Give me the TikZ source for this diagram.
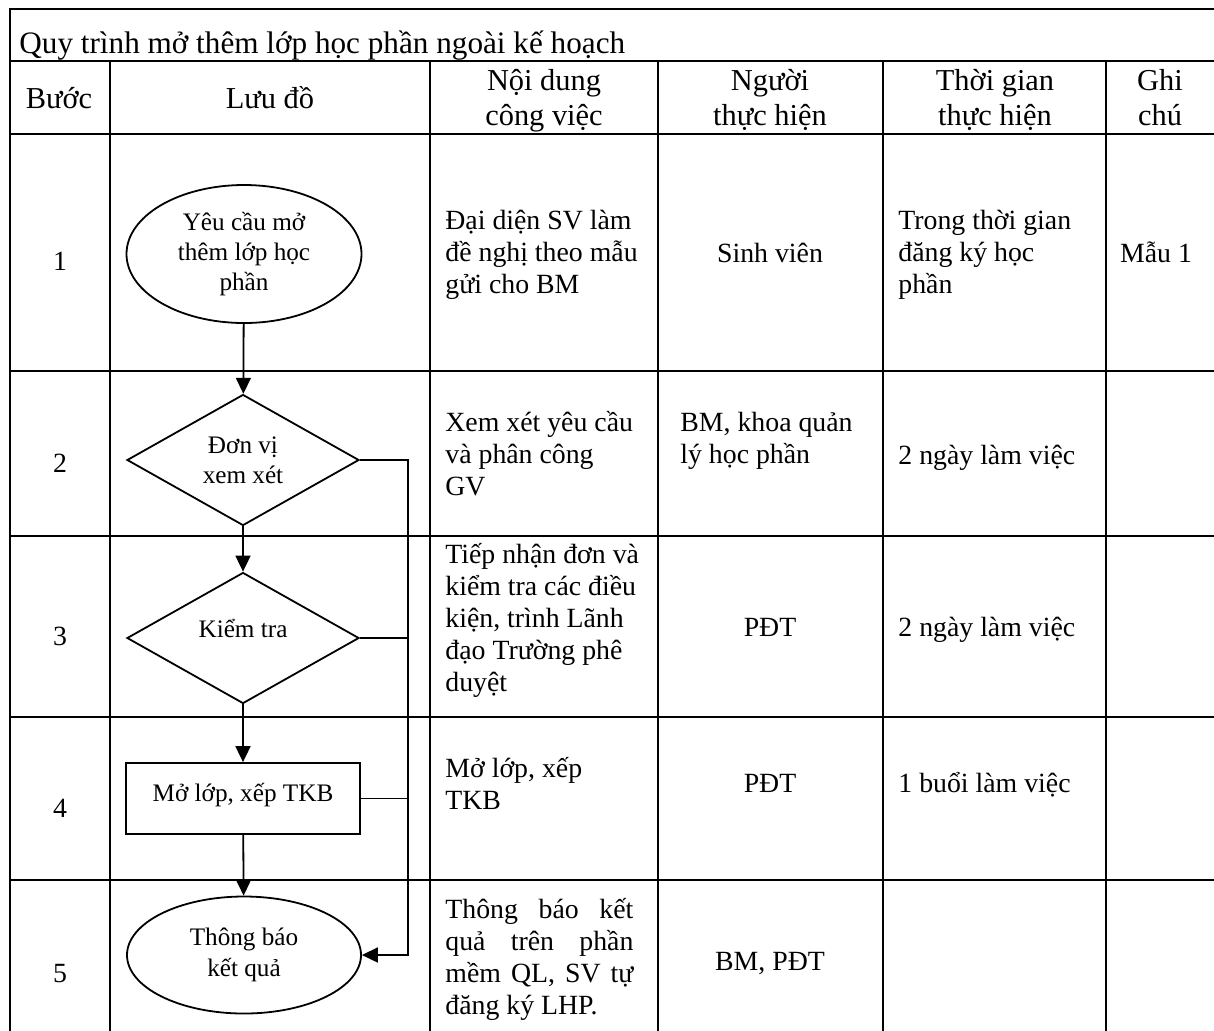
\documentclass[tikz,border=0pt]{standalone}
\usepackage{fontspec}
\setmainfont{Liberation Serif}
\usetikzlibrary{shapes.geometric,arrows.meta,positioning}

\newcommand{\cellfont}{\fontsize{13.9}{16}\selectfont}
\newcommand{\chartfont}{\fontsize{12.6}{15.2}\selectfont}
\newcommand{\headfont}{\fontsize{15.2}{17.5}\selectfont}
\newcommand{\jline}[1]{\makebox[94pt][s]{#1}}

\tikzset{
  tabline/.style={line width=0.6pt},
  flow/.style={line width=0.9pt},
  arr/.style={flow,-{Triangle[length=8pt,width=7.5pt]}},
  chart/.style={draw,flow,inner sep=0pt,align=center,font=\chartfont},
  cell/.style={inner sep=0pt,font=\cellfont},
  head/.style={inner sep=0pt,align=center,font=\headfont},
}

\begin{document}
\begin{tikzpicture}[x=0.5pt,y=-0.5pt]
\useasboundingbox (0,0) rectangle (1214,1030);

%TABLE
\draw [tabline] (10,1040) -- (10,9) -- (1220,9);
\draw [tabline] (10,61) -- (1220,61);
\foreach \y in {134,371,536,717,880}
{
\draw [tabline] (10,\y) -- (1220,\y);
}
\foreach \x in {110,430,658,883,1106}
{
\draw [tabline] (\x,61) -- (\x,1040);
}

%Title & Headings
\node [head,anchor=base west,font=\fontsize{15.6}{18}\selectfont] (title) at (19,53) {Quy trình mở thêm lớp học phần ngoài kế hoạch};
\node [head,anchor=base] (hStep) at (59,108) {Bước};
\node [head,anchor=base] (hChart) at (270,108) {Lưu đồ};
\node [head,anchor=base] (hTask) at (544,125) {Nội dung\\công việc};
\node [head,anchor=base] (hWho) at (770,125) {Người\\thực hiện};
\node [head,anchor=base] (hTime) at (995,125) {Thời gian\\thực hiện};
\node [head,anchor=base] (hNote) at (1160,125) {Ghi\\chú};

%Step numbers
\foreach \n/\y in {1/270,2/472,3/645,4/817,5/982}
\node [cell,anchor=base] (step\n) at (60,\y) {\n};

%FLOWCHART
\node [chart,ellipse,minimum width=117.5pt,minimum height=69pt] (start) at (244,254) {Yêu cầu mở\\thêm lớp học\\phần};
\node [chart,diamond,minimum width=116pt,minimum height=65.5pt] (unit) at (243,460) {Đơn vị\\xem xét};
\node [chart,diamond,minimum width=116pt,minimum height=65.5pt] (check) at (243,638) {\raisebox{10pt}{Kiểm tra}};
\node [chart,rectangle,minimum width=117pt,minimum height=35.5pt] (open) at (243,798.5) {\raisebox{6pt}{Mở lớp, xếp TKB}};
\node [chart,ellipse,minimum width=117pt,minimum height=58.5pt] (notify) at (244,955) {Thông báo\\kết quả};

%Flow Lines
\draw [arr] (start) -- (unit);
\draw [arr] (unit) -- (check);
\draw [arr] (check) -- (open);
\draw [arr] (open) -- (notify);
\coordinate [right=24pt of unit.east] (bus);
\draw [arr] (unit.east) -- (bus) |- (notify.east);
\draw [flow] (check.east) -- (check.east -| bus);
\draw [tabline] (open.east) -- (open.east -| bus);

%Task column
\node [cell,align=left,anchor=base west] (task1) at (445,293) {Đại diện SV làm\\đề nghị theo mẫu\\gửi cho BM};
\node [cell,align=left,anchor=base west] (task2) at (445,495) {Xem xét yêu cầu\\và phân công\\GV};
\node [cell,align=left,anchor=base west] (task3) at (445,691) {Tiếp nhận đơn và\\kiểm tra các điều\\kiện, trình Lãnh\\đạo Trường phê\\duyệt};
\node [cell,align=left,anchor=base west] (task4) at (445,809) {Mở lớp, xếp\\TKB};
\node [cell,align=left,anchor=base west] (task5) at (445,1014) {\jline{Thông báo kết}\\\jline{quả trên phần}\\\jline{mềm QL, SV tự}\\đăng ký LHP.};

%Who column
\node [cell,anchor=base] (who1) at (770,262) {Sinh viên};
\node [cell,align=left,anchor=base west] (who2) at (680,463) {BM, khoa quản\\lý học phần};
\node [cell,anchor=base] (who3) at (770,636) {PĐT};
\node [cell,anchor=base] (who4) at (770,792) {PĐT};
\node [cell,anchor=base] (who5) at (770,970) {BM, PĐT};

%Time column
\node [cell,align=left,anchor=base west] (time1) at (898,293) {Trong thời gian\\đăng ký học\\phần};
\node [cell,anchor=base west] (time2) at (898,464) {2 ngày làm việc};
\node [cell,anchor=base west] (time3) at (898,636) {2 ngày làm việc};
\node [cell,anchor=base west] (time4) at (898,792) {1 buổi làm việc};

%Note column
\node [cell,anchor=base] (note1) at (1156,262) {Mẫu 1};

\end{tikzpicture}
\end{document}
